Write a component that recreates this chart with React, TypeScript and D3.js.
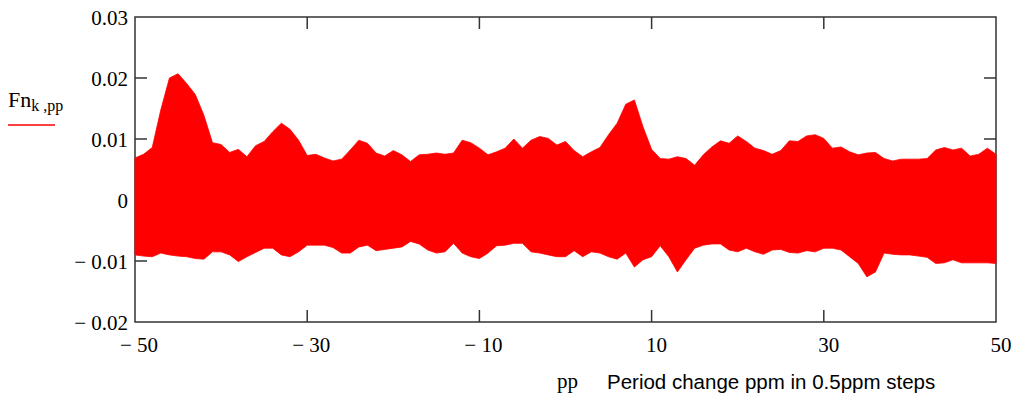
import React from "react";
import * as d3 from "d3";

// pp values (period change, ppm)
const ppValues: number[] = d3.range(-50, 51, 1);

// upper envelope of Fn (max over k) at each pp
const upperEnv: number[] = [
  0.0069, 0.0075, 0.0086, 0.0148, 0.0200, 0.0207, 0.0191, 0.0173, 0.0139, 0.0094,
  0.0091, 0.0078, 0.0083, 0.0071, 0.0089, 0.0096, 0.0112, 0.0126, 0.0116, 0.0098,
  0.0073, 0.0075, 0.0069, 0.0064, 0.0067, 0.0082, 0.0098, 0.0093, 0.0077, 0.0072,
  0.0081, 0.0074, 0.0063, 0.0074, 0.0075, 0.0077, 0.0075, 0.0077, 0.0098, 0.0094,
  0.0085, 0.0074, 0.0079, 0.0085, 0.0100, 0.0085, 0.0098, 0.0104, 0.0101, 0.0090,
  0.0096, 0.0081, 0.0071, 0.0079, 0.0086, 0.0107, 0.0126, 0.0157, 0.0164, 0.0120,
  0.0083, 0.0068, 0.0067, 0.0071, 0.0068, 0.0057, 0.0074, 0.0087, 0.0097, 0.0093,
  0.0105, 0.0096, 0.0085, 0.0081, 0.0075, 0.0081, 0.0097, 0.0096, 0.0105, 0.0107,
  0.0101, 0.0085, 0.0087, 0.0079, 0.0074, 0.0077, 0.0078, 0.0068, 0.0064, 0.0067,
  0.0067, 0.0067, 0.0068, 0.0082, 0.0086, 0.0082, 0.0085, 0.0072, 0.0075, 0.0085,
  0.0075,
];

// lower envelope of Fn (min over k) at each pp
const lowerEnv: number[] = [
  -0.0090, -0.0092, -0.0093, -0.0087, -0.0090, -0.0092, -0.0093, -0.0096, -0.0097, -0.0085,
  -0.0085, -0.0090, -0.0101, -0.0093, -0.0086, -0.0079, -0.0079, -0.0090, -0.0093, -0.0085,
  -0.0074, -0.0074, -0.0074, -0.0078, -0.0087, -0.0087, -0.0077, -0.0074, -0.0083, -0.0081,
  -0.0079, -0.0077, -0.0068, -0.0072, -0.0082, -0.0087, -0.0085, -0.0071, -0.0087, -0.0093,
  -0.0096, -0.0087, -0.0075, -0.0074, -0.0071, -0.0071, -0.0085, -0.0087, -0.0090, -0.0093,
  -0.0093, -0.0083, -0.0093, -0.0085, -0.0087, -0.0093, -0.0097, -0.0087, -0.0110, -0.0098,
  -0.0093, -0.0075, -0.0093, -0.0118, -0.0098, -0.0079, -0.0074, -0.0072, -0.0072, -0.0082,
  -0.0085, -0.0079, -0.0085, -0.0089, -0.0082, -0.0081, -0.0086, -0.0087, -0.0083, -0.0085,
  -0.0079, -0.0079, -0.0082, -0.0093, -0.0104, -0.0126, -0.0118, -0.0087, -0.0089, -0.0090,
  -0.0090, -0.0092, -0.0094, -0.0104, -0.0103, -0.0098, -0.0103, -0.0103, -0.0103, -0.0103,
  -0.0104,
];

const xTickValues: number[] = [-50, -30, -10, 10, 30, 50];
const yTickValues: number[] = [0.03, 0.02, 0.01, 0, -0.01, -0.02];

const fmtNum = (v: number, digits: number) => {
  if (v === 0) return "0";
  const s = Math.abs(v).toFixed(digits);
  return v < 0 ? "\u2212 " + s : s;
};

export default function App() {
  const W = 1016;
  const H = 397;
  const left = 135, right = 996, top = 17, bottom = 322;
  const x = d3.scaleLinear().domain([-50, 50]).range([left, right]);
  const y = d3.scaleLinear().domain([-0.02, 0.03]).range([bottom, top]);

  const rows = ppValues.map((p, i) => ({ p, hi: upperEnv[i], lo: lowerEnv[i] }));
  const area = d3
    .area<{ p: number; hi: number; lo: number }>()
    .x((d) => x(d.p))
    .y0((d) => y(d.lo))
    .y1((d) => y(d.hi));

  const serif = "'Liberation Serif', 'Times New Roman', serif";
  const sans = "'Liberation Sans', Arial, sans-serif";
  const tickLen = 12;
  const axisColor = "#333";

  return (
    <svg
      width={W}
      height={H}
      style={{ position: "absolute", left: 0, top: 0, background: "#fff" }}
    >
      {/* frame */}
      <rect x={left} y={top} width={right - left} height={bottom - top} fill="none" stroke={axisColor} strokeWidth={1.5} />
      {/* inner ticks */}
      {xTickValues.slice(1, -1).map((t) => (
        <g key={"xt" + t}>
          <line x1={x(t)} x2={x(t)} y1={top} y2={top + tickLen} stroke={axisColor} strokeWidth={1.5} />
          <line x1={x(t)} x2={x(t)} y1={bottom} y2={bottom - tickLen} stroke={axisColor} strokeWidth={1.5} />
        </g>
      ))}
      {yTickValues.slice(1, -1).map((t) => (
        <g key={"yt" + t}>
          <line x1={left} x2={left + tickLen} y1={y(t)} y2={y(t)} stroke={axisColor} strokeWidth={1.5} />
          <line x1={right} x2={right - tickLen} y1={y(t)} y2={y(t)} stroke={axisColor} strokeWidth={1.5} />
        </g>
      ))}

      {/* data envelope */}
      <path d={area(rows) || ""} fill="#ff0000" stroke="#ff0000" strokeWidth={0.8} />

      {/* y tick labels */}
      {yTickValues.map((t) => (
        <text
          key={"yl" + t}
          x={128}
          y={y(t) + 8}
          textAnchor="end"
          fontFamily={serif}
          fontSize={21}
          fill="#000"
        >
          {fmtNum(t, 2)}
        </text>
      ))}
      {/* x tick labels */}
      {xTickValues.map((t) => (
        <text
          key={"xl" + t}
          x={x(t) + (t < 0 ? 4 : 5)}
          y={352}
          textAnchor="middle"
          fontFamily={serif}
          fontSize={21}
          fill="#000"
        >
          {fmtNum(t, 0)}
        </text>
      ))}

      {/* y axis label */}
      <text x={8} y={107} fontFamily={serif} fontSize={22} fill="#000">
        Fn
        <tspan dy={4} fontSize={16}>k ,pp</tspan>
      </text>
      <line x1={8} x2={55} y1={125} y2={125} stroke="#ff0000" strokeWidth={1.5} />

      {/* x axis label */}
      <text x={557} y={388} fontFamily={serif} fontSize={21} fill="#000">pp</text>
      <text x={607} y={389} fontFamily={sans} fontSize={20.5} fill="#000">
        Period change ppm in 0.5ppm steps
      </text>
    </svg>
  );
}
